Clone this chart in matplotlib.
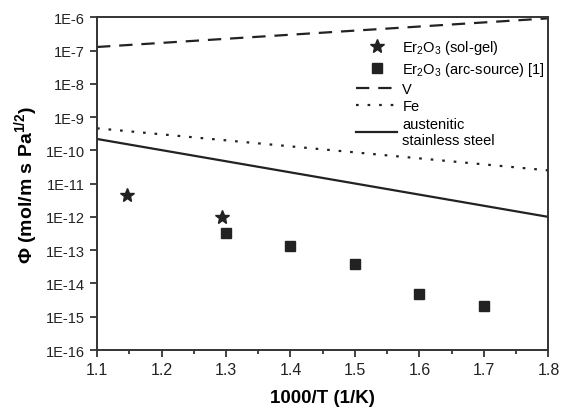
import matplotlib.pyplot as plt
import numpy as np
from matplotlib.ticker import FixedLocator, NullLocator, MultipleLocator

plt.rcParams['font.family'] = ['Liberation Sans', 'DejaVu Sans']
plt.rcParams['mathtext.fontset'] = 'custom'
plt.rcParams['mathtext.rm'] = 'Liberation Sans'
plt.rcParams['mathtext.bf'] = 'Liberation Sans:bold'

# lines (end points, straight in log-space)
line_x = [1.1, 1.8]
v_phi = [1.28e-7, 9.3e-7]
fe_phi = [4.6e-10, 2.5e-11]
steel_phi = [2.2e-10, 1.0e-12]

# Er2O3 points
solgel_x = [1.146, 1.294]
solgel_phi = [4.6e-12, 1.0e-12]
arc_x = [1.3, 1.4, 1.5, 1.6, 1.7]
arc_phi = [3.3e-13, 1.3e-13, 3.8e-14, 4.7e-15, 2.1e-15]

yticks = [10.0 ** e for e in range(-16, -5)]
ylabels = ['1E%d' % e for e in range(-16, -5)]

fig = plt.figure(figsize=(5.63, 4.1), dpi=100)
ax = fig.add_axes([0.1723, 0.1439, 0.8019, 0.8115])

ax.plot(solgel_x, solgel_phi, '*', color='#222222', markersize=10, label='Er$_2$O$_3$ (sol-gel)')
ax.plot(arc_x, arc_phi, 's', color='#222222', markersize=7, label='Er$_2$O$_3$ (arc-source) [1]')
ax.plot(line_x, v_phi, color='#222222', lw=1.6, dashes=(6, 4), label='V')
ax.plot(line_x, fe_phi, color='#222222', lw=1.6, dashes=(1.2, 4), label='Fe')
ax.plot(line_x, steel_phi, color='#222222', lw=1.6, label='austenitic\nstainless steel')

ax.set_yscale('log')
ax.set_xlim(1.1, 1.8)
ax.set_ylim(1e-16, 1e-6)
ax.yaxis.set_major_locator(FixedLocator(yticks))
ax.set_yticklabels(ylabels)
ax.yaxis.set_minor_locator(NullLocator())
ax.xaxis.set_major_locator(MultipleLocator(0.1))
ax.xaxis.set_minor_locator(MultipleLocator(0.05))
ax.tick_params(which='major', direction='out', length=5, width=1.2, labelsize=11.5, colors='#222222')
ax.tick_params(which='minor', direction='out', length=3, width=1.2, colors='#222222')
ax.tick_params(axis='y', which='major', labelsize=10.5)
for s in ax.spines.values():
    s.set_linewidth(1.4)
    s.set_color('#333333')

ax.set_xlabel('1000/T (1/K)', fontsize=13.5, fontweight='bold', labelpad=9)
ax.set_ylabel(r'Φ (mol/m s Pa$^{\mathbf{1/2}}$)', fontsize=14, fontweight='bold', labelpad=4)

leg = ax.legend(loc='upper right', bbox_to_anchor=(1.012, 0.963), frameon=False, fontsize=10.5,
                handlelength=2.8, handletextpad=0.35, labelspacing=0.25, borderaxespad=0.2)

fig.savefig('out.png', dpi=100)
